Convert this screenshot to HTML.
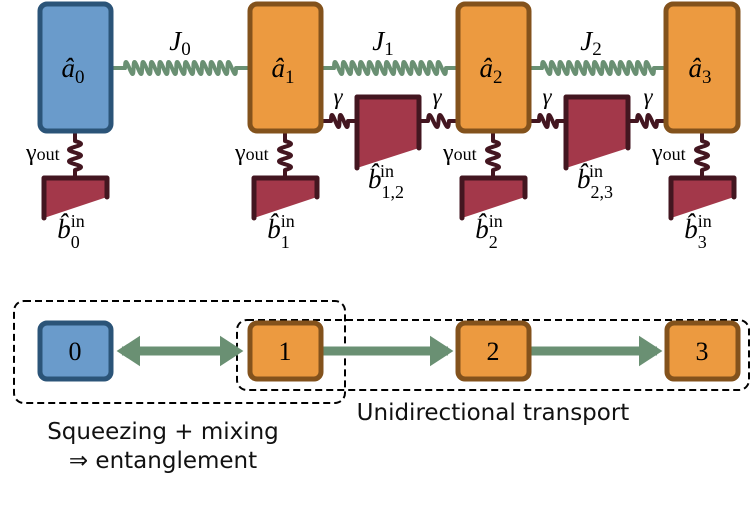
<!DOCTYPE html>
<html><head><meta charset="utf-8"><style>
html,body{margin:0;padding:0;background:#fff}
svg{display:block}
text{font-family:"Liberation Serif",serif}
.s{font-family:"DejaVu Sans","Liberation Sans",sans-serif}
</style></head><body>
<svg id="sv" width="753" height="525" viewBox="0 0 753 525" xmlns="http://www.w3.org/2000/svg">
<defs>
<marker id="ah" markerWidth="4" markerHeight="4" refX="2" refY="2" orient="auto" markerUnits="strokeWidth"><path d="M0,0.3 L2.6,2 L0,3.7 Z" fill="#6a9073"/></marker>
<marker id="at" markerWidth="4" markerHeight="4" refX="2" refY="2" orient="auto-start-reverse" markerUnits="strokeWidth"><path d="M0,0.3 L2.6,2 L0,3.7 Z" fill="#6a9073"/></marker>
</defs>
<g id="springs"></g>
<rect x="40" y="4" width="71" height="127" rx="7" fill="#6a9bcb" stroke="#2b5478" stroke-width="5"/>
<rect x="250" y="4" width="71" height="127" rx="7" fill="#ec9a40" stroke="#83521c" stroke-width="5"/>
<rect x="458" y="4" width="71" height="127" rx="7" fill="#ec9a40" stroke="#83521c" stroke-width="5"/>
<rect x="666" y="4" width="72" height="127" rx="7" fill="#ec9a40" stroke="#83521c" stroke-width="5"/>
<g font-style="italic" font-size="27" text-anchor="middle">
<text x="73" y="77">â<tspan font-style="normal" font-size="19" dy="6">0</tspan></text>
<text x="283" y="77">â<tspan font-style="normal" font-size="19" dy="6">1</tspan></text>
<text x="491" y="77">â<tspan font-style="normal" font-size="19" dy="6">2</tspan></text>
<text x="700" y="77">â<tspan font-style="normal" font-size="19" dy="6">3</tspan></text>
<text x="180" y="50">J<tspan font-style="normal" font-size="19" dy="5">0</tspan></text>
<text x="383" y="50">J<tspan font-style="normal" font-size="19" dy="5">1</tspan></text>
<text x="591" y="50">J<tspan font-style="normal" font-size="19" dy="5">2</tspan></text>
<text x="338" y="104" font-size="23">γ</text>
<text x="437" y="104" font-size="23">γ</text>
<text x="547" y="104" font-size="23">γ</text>
<text x="648" y="104" font-size="23">γ</text>
</g>
<g font-size="24">
<text x="26" y="160">γ<tspan font-size="18">out</tspan></text>
<text x="235" y="160">γ<tspan font-size="18">out</tspan></text>
<text x="443" y="160">γ<tspan font-size="18">out</tspan></text>
<text x="652" y="160">γ<tspan font-size="18">out</tspan></text>
</g>
<g fill="#a3384a" stroke="#431620" stroke-width="5" stroke-linejoin="round" stroke-linecap="round">
<path d="M44,218 L44,178 L107,178 L107,197 Z" stroke="none"/><path d="M44,218 L44,178 L107,178 L107,197" fill="none"/>
<path d="M254,218 L254,178 L317,178 L317,197 Z" stroke="none"/><path d="M254,218 L254,178 L317,178 L317,197" fill="none"/>
<path d="M462,218 L462,178 L525,178 L525,197 Z" stroke="none"/><path d="M462,218 L462,178 L525,178 L525,197" fill="none"/>
<path d="M671,218 L671,178 L734,178 L734,197 Z" stroke="none"/><path d="M671,218 L671,178 L734,178 L734,197" fill="none"/>
<path d="M357,168 L357,97 L419,97 L419,148 Z" stroke="none"/><path d="M357,168 L357,97 L419,97 L419,148" fill="none"/>
<path d="M566,168 L566,97 L628,97 L628,148 Z" stroke="none"/><path d="M566,168 L566,97 L628,97 L628,148" fill="none"/>
</g>
<g font-style="italic" font-size="27" text-anchor="middle">
<text x="71" y="238">b̂<tspan font-style="normal" font-size="18" dy="10">0</tspan><tspan font-style="normal" font-size="18" dx="-9" dy="-21">in</tspan></text>
<text x="281" y="238">b̂<tspan font-style="normal" font-size="18" dy="10">1</tspan><tspan font-style="normal" font-size="18" dx="-9" dy="-21">in</tspan></text>
<text x="489" y="238">b̂<tspan font-style="normal" font-size="18" dy="10">2</tspan><tspan font-style="normal" font-size="18" dx="-9" dy="-21">in</tspan></text>
<text x="698" y="238">b̂<tspan font-style="normal" font-size="18" dy="10">3</tspan><tspan font-style="normal" font-size="18" dx="-9" dy="-21">in</tspan></text>
<text x="386" y="188">b̂<tspan font-style="normal" font-size="18" dy="10">1,2</tspan><tspan font-style="normal" font-size="18" dx="-24" dy="-21">in</tspan></text>
<text x="595" y="188">b̂<tspan font-style="normal" font-size="18" dy="10">2,3</tspan><tspan font-style="normal" font-size="18" dx="-24" dy="-21">in</tspan></text>
</g>
<rect x="14" y="301" width="331" height="102" rx="10" fill="none" stroke="#000" stroke-width="2" stroke-dasharray="7,4"/>
<rect x="237" y="320" width="512" height="70" rx="10" fill="none" stroke="#000" stroke-width="2" stroke-dasharray="7,4"/>
<line x1="122" y1="351" x2="238" y2="351" stroke="#6a9073" stroke-width="9" marker-end="url(#ah)" marker-start="url(#at)"/>
<line x1="322" y1="351" x2="448" y2="351" stroke="#6a9073" stroke-width="9" marker-end="url(#ah)"/>
<line x1="530" y1="351" x2="657" y2="351" stroke="#6a9073" stroke-width="9" marker-end="url(#ah)"/>
<rect x="40" y="323" width="71" height="56" rx="7" fill="#6a9bcb" stroke="#2b5478" stroke-width="5"/>
<rect x="250" y="323" width="71" height="56" rx="7" fill="#ec9a40" stroke="#83521c" stroke-width="5"/>
<rect x="458" y="323" width="71" height="56" rx="7" fill="#ec9a40" stroke="#83521c" stroke-width="5"/>
<rect x="667" y="323" width="71" height="56" rx="7" fill="#ec9a40" stroke="#83521c" stroke-width="5"/>
<g font-size="26" text-anchor="middle">
<text x="75" y="360">0</text><text x="285" y="360">1</text><text x="493" y="360">2</text><text x="702" y="360">3</text>
</g>
<g font-size="23" text-anchor="middle" fill="#111">
<text x="493" y="420" class="s">Unidirectional transport</text>
<text x="163" y="439" class="s">Squeezing + mixing</text>
<text x="163" y="468" class="s">⇒ entanglement</text>
</g>
</svg>
<script>
(function(){
var g=document.getElementById('springs'),NS='http://www.w3.org/2000/svg';
function add(d,c,w){var p=document.createElementNS(NS,'path');p.setAttribute('d',d);p.setAttribute('fill','none');p.setAttribute('stroke',c);p.setAttribute('stroke-width',w);p.setAttribute('stroke-linejoin','round');g.appendChild(p);}
function hsw(x0,x1,y,a,b,n,r,lp,c,w){
 var d='M'+x0+','+y+' L'+a+','+y, L=b-a, k=L/(2*Math.PI*n);
 for(var i=0;i<=n*40;i++){var t=i/40*2*Math.PI;var x=a+k*t-r*lp*Math.sin(t);d+=' L'+x.toFixed(2)+','+(y-r*Math.sin(t)).toFixed(2);}
 d+=' L'+x1+','+y; add(d,c,w);}
function vs(x,y0,y1,a,b,n,r,c,w){
 var d='M'+x+','+y0+' L'+x+','+a, L=b-a;
 for(var i=0;i<=n*40;i++){var t=i/40*2*Math.PI;var yy=a+L*i/(n*40);d+=' L'+(x+r*Math.sin(t)).toFixed(2)+','+yy.toFixed(2);}
 d+=' L'+x+','+y1; add(d,c,w);}
var G='#6a9073',D='#431620';
hsw(112,250,68,125,236,13,6,0.2,G,4);
hsw(322,458,68,334,446,13,6,0.2,G,4);
hsw(530,666,68,542,654,13,6,0.2,G,4);
[[322,357],[419,458],[530,566],[628,666]].forEach(function(s){hsw(s[0],s[1],121,s[0]+9,s[1]-9,2,6,0.2,D,4);});
[75,285,493,702].forEach(function(x){vs(x,131,178,141,170,2.5,6,D,4);});
})();
</script>
</body></html>
